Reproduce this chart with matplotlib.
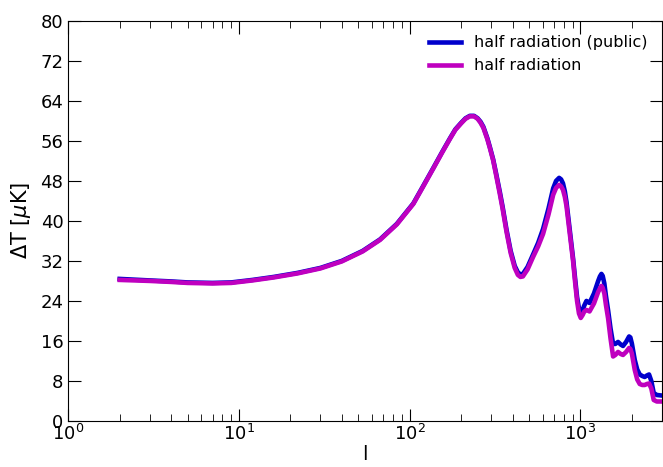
import matplotlib
matplotlib.use("Agg")
import matplotlib.pyplot as plt
from matplotlib.ticker import MultipleLocator

# multipole l and Delta T [muK]
ell_public = [2, 3, 4, 5, 7, 9, 12, 16, 22, 30, 40, 53, 67, 84, 105, 120, 137, 155,
              172, 185, 200, 212, 225, 238, 250, 260, 270, 285, 295, 308, 320, 337,
              350, 369, 390, 412, 430, 445, 460, 490, 528, 565, 604, 650, 692, 720,
              750, 770, 790, 810, 828, 860, 905, 930, 955, 980, 1010, 1030, 1050,
              1084, 1130, 1200, 1270, 1300, 1327, 1350, 1380, 1410, 1452, 1500, 1553,
              1600, 1660, 1720, 1775, 1850, 1927, 1960, 2000, 2080, 2150, 2224, 2300,
              2378, 2450, 2522, 2600, 2686, 2800, 2980]
dt_public = [28.4, 28.1, 27.9, 27.7, 27.6, 27.7, 28.2, 28.8, 29.6, 30.6, 32.0, 34.0,
             36.3, 39.4, 43.5, 47.0, 50.5, 53.8, 56.5, 58.3, 59.6, 60.5, 61.0, 61.0,
             60.5, 59.8, 58.8, 56.5, 54.7, 52.3, 49.6, 45.8, 42.8, 38.2, 34.0, 31.0,
             29.7, 29.3, 29.4, 30.8, 33.3, 35.6, 38.4, 42.5, 46.5, 48.0, 48.6, 48.3,
             47.5, 45.9, 43.8, 39.0, 32.5, 28.5, 24.8, 22.5, 21.6, 22.2, 23.0, 24.0,
             23.6, 25.5, 28.0, 28.9, 29.4, 29.0, 27.5, 25.0, 22.1, 18.5, 15.4, 15.4,
             15.8, 15.3, 15.0, 15.8, 16.9, 16.7, 15.5, 12.2, 10.3, 9.3, 9.0, 8.8,
             9.1, 9.3, 8.0, 5.6, 5.2, 5.1]

ell_half = [2, 3, 4, 5, 7, 9, 12, 16, 22, 30, 40, 53, 67, 84, 105, 120, 137, 155,
            172, 185, 200, 212, 225, 238, 250, 260, 270, 285, 295, 308, 320, 337,
            350, 369, 390, 412, 430, 445, 460, 490, 528, 565, 604, 650, 692, 720,
            750, 770, 790, 810, 828, 860, 905, 930, 955, 980, 1004, 1030, 1050,
            1084, 1130, 1200, 1270, 1300, 1327, 1350, 1380, 1410, 1452, 1500, 1553,
            1600, 1660, 1720, 1775, 1850, 1927, 1960, 2000, 2080, 2150, 2224, 2300,
            2378, 2450, 2522, 2600, 2686, 2800, 2980]
dt_half = [28.2, 28.0, 27.8, 27.6, 27.5, 27.6, 28.1, 28.7, 29.5, 30.5, 31.9, 33.9,
           36.2, 39.3, 43.4, 46.9, 50.4, 53.7, 56.4, 58.2, 59.5, 60.4, 60.9, 60.9,
           60.4, 59.6, 58.6, 56.3, 54.5, 52.1, 49.3, 45.4, 42.4, 37.8, 33.6, 30.6,
           29.2, 28.8, 28.9, 30.3, 32.8, 34.9, 37.4, 41.3, 45.2, 46.6, 47.2, 46.9,
           46.2, 44.8, 43.0, 38.3, 32.0, 27.8, 24.0, 21.5, 20.6, 21.2, 21.8, 22.2,
           21.9, 23.5, 25.8, 26.5, 27.0, 26.6, 25.5, 23.2, 20.5, 16.5, 12.9, 13.2,
           13.8, 13.4, 13.2, 13.8, 14.6, 14.4, 13.5, 10.2, 8.3, 7.4, 7.2, 7.2,
           7.4, 7.5, 6.5, 4.2, 3.9, 3.9]

fig = plt.figure(figsize=(6.63, 4.67), dpi=100)
ax = fig.add_axes([0.103, 0.0985, 0.895, 0.857])

ax.plot(ell_public, dt_public, color="#0000cc", lw=3.3, solid_joinstyle="round",
        label="half radiation (public)")
ax.plot(ell_half, dt_half, color="#bf00bf", lw=3.3, solid_joinstyle="round",
        label="half radiation")

ax.set_xscale("log")
ax.set_xlim(1, 2990)
ax.set_ylim(0, 80)
ax.yaxis.set_major_locator(MultipleLocator(8))

ax.tick_params(which="both", direction="in", top=True, right=True, labelsize=13)
ax.tick_params(which="major", length=9)
ax.tick_params(which="minor", length=5)
ax.tick_params(axis="x", pad=2)

ax.set_xlabel("l", fontsize=14, labelpad=1)
ax.set_ylabel(r"$\Delta$T [$\mu$K]", fontsize=15, labelpad=5)
ax.legend(loc="upper right", frameon=False, fontsize=11.5)

fig.savefig("out.png", dpi=100)
